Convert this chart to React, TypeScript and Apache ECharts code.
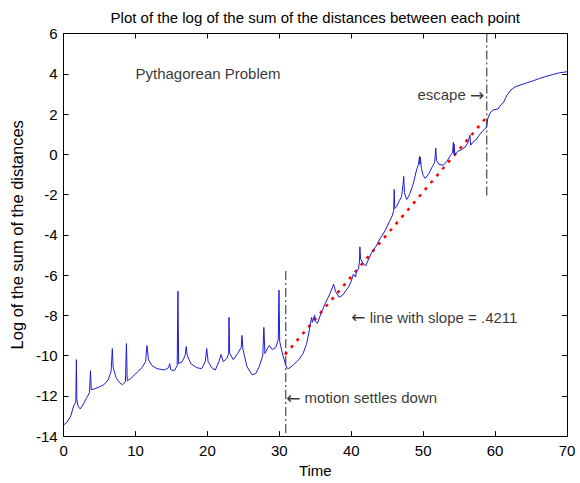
import React, { useEffect, useRef } from "react";
import * as echarts from "echarts";

// ---- Data ----
const timePoints = [
  0, 0.5, 1.0, 1.4, 1.7, 1.78, 1.85, 2.0, 2.3, 2.7, 3.2, 3.6, 3.74, 3.85, 4.3, 5.0, 5.6, 6.2, 6.6, 6.78,
  6.9, 7.3, 7.8, 8.2, 8.6, 8.74, 8.85, 9.3, 9.9, 10.3, 10.9, 11.4, 11.6, 11.8, 12.3, 13.0, 14.0, 14.6, 14.75, 14.9,
  15.4, 15.8, 15.9, 16.0, 16.5, 16.9, 17.05, 17.2, 17.7, 18.5, 19.2, 19.7, 19.9, 20.1, 20.6, 21.1, 21.6, 21.9, 22.2, 22.7,
  22.95, 23.0, 23.1, 23.6, 24.2, 24.7, 24.8, 24.95, 25.5, 26.2, 26.7, 27.2, 27.7, 27.85, 28.0, 28.4, 28.6, 29.0, 29.5, 29.85,
  29.95, 30.05, 30.5, 31.0, 31.3, 32.0, 32.7, 33.3, 33.8, 34.2, 34.3, 34.5, 34.6, 34.9, 35.0, 35.3, 35.8, 36.4, 37.0, 37.4,
  37.55, 37.8, 38.3, 38.8, 39.3, 39.7, 40.0, 40.3, 40.6, 40.75, 41.0, 41.15, 41.2, 41.3, 41.6, 42.0, 42.3, 42.8, 43.4, 44.0,
  44.7, 45.3, 45.7, 45.9, 45.97, 46.05, 46.3, 46.7, 47.0, 47.2, 47.3, 47.4, 47.7, 48.1, 48.6, 49.1, 49.35, 49.5, 49.55, 49.6,
  49.75, 50.0, 50.3, 50.8, 51.3, 51.6, 51.75, 51.85, 52.2, 52.8, 53.3, 53.8, 54.1, 54.2, 54.25, 54.3, 54.4, 54.8, 55.2, 55.8,
  56.2, 56.5, 56.6, 56.9, 57.3, 57.9, 58.4, 58.8, 59.0, 59.3, 59.7, 60.4, 60.7, 61.2, 61.6, 62.2, 62.8, 63.6, 64.4, 65.3,
  66.2, 67.2, 68.1, 69.0, 70.0,
];
const logDistance = [
  -13.45, -13.3, -13.0, -12.5, -12.3, -10.2, -12.2, -12.5, -12.65, -12.45, -12.1, -11.85, -10.75, -11.7, -11.65, -11.55, -11.45, -11.2, -10.8, -9.65,
  -10.6, -11.1, -11.35, -11.45, -11.3, -9.4, -11.25, -11.15, -10.95, -10.8, -10.6, -10.3, -9.5, -10.2, -10.5, -10.65, -10.72, -10.6, -10.4, -10.7,
  -10.75, -10.5, -6.8, -10.4, -10.3, -10.0, -9.55, -10.0, -10.4, -10.6, -10.65, -10.3, -9.65, -10.3, -10.6, -10.72, -10.3, -9.95, -10.3, -10.15,
  -9.9, -8.1, -9.9, -10.2, -9.9, -9.6, -9.0, -9.7, -10.55, -10.95, -10.9, -10.55, -10.0, -8.6, -9.9, -9.6, -9.5, -9.7, -9.6, -9.2,
  -6.75, -9.3, -10.0, -10.6, -10.65, -10.45, -10.2, -9.9, -9.4, -8.7, -8.45, -8.1, -8.35, -8.0, -8.3, -8.4, -7.9, -7.4, -6.95, -6.6,
  -6.45, -6.8, -7.1, -7.0, -6.75, -6.55, -6.3, -5.95, -6.1, -5.8, -5.7, -5.3, -4.6, -5.2, -5.4, -5.55, -5.3, -4.9, -4.6, -4.2,
  -3.8, -3.35, -3.05, -2.8, -1.75, -2.7, -2.6, -2.3, -2.1, -1.5, -1.1, -1.9, -2.25, -2.0, -1.5, -0.75, -0.5, -0.1, -0.5, -0.15,
  -0.7, -1.05, -1.2, -0.95, -0.6, -0.4, 0.3, -0.3, -0.5, -0.55, -0.35, -0.05, 0.1, 0.6, 0.05, 0.5, -0.05, 0.15, 0.2, 0.35,
  0.55, 0.95, 0.45, 0.6, 0.7, 1.0, 1.2, 1.35, 1.8, 2.05, 2.2, 2.25, 2.4, 2.6, 2.9, 3.2, 3.35, 3.45, 3.55, 3.65,
  3.77, 3.88, 3.97, 4.05, 4.1,
];

// fitted line with slope = .4211 (end points)
const slopeLineT = [30.8, 59.0];
const slopeLineY = [-9.95, 1.92];

// dash-dot marker lines
const settleLineT = [30.9, 30.9];
const settleLineY = [-5.8, -14];
const escapeLineT = [58.85, 58.85];
const escapeLineY = [6, -2.2];

// annotations: position and text ({l|..} / {r|..} mark the arrows)
const annotationT = [10, 49.2, 40, 30.95];
const annotationY = [4, 2.95, -8.1, -12.1];
const annotationText = [
  "Pythagorean Problem",
  "escape {a|\u2192}",
  "{a|\u2190} line with slope = .4211",
  "{a|\u2190} motion settles down",
];

const xTicks = { min: 0, max: 70, interval: 10 };
const yTicks = { min: -14, max: 6, interval: 2 };

const FONT = "Liberation Sans, Arial, sans-serif";
const FS = 15;

export default function App() {
  const ref = useRef<HTMLDivElement>(null);

  useEffect(() => {
    if (!ref.current) return;
    const chart = echarts.init(ref.current, undefined, { renderer: "svg" });

    const axisCommon = {
      type: "value" as const,
      axisLine: { show: true, onZero: false, lineStyle: { color: "#000", width: 1 } },
      axisTick: { show: true, inside: true, length: 5, lineStyle: { color: "#000", width: 1 } },
      splitLine: { show: false },
    };
    const labelStyle = { color: "#000", fontSize: FS, fontFamily: FONT };

    chart.setOption({
      animation: false,
      backgroundColor: "#ffffff",
      grid: { left: 63, right: 13, top: 33.5, bottom: 41.5, containLabel: false },
      xAxis: [
        {
          ...axisCommon,
          ...xTicks,
          position: "bottom",
          axisLabel: { ...labelStyle, margin: 7 },
          name: "Time",
          nameLocation: "middle",
          nameGap: 26,
          nameTextStyle: labelStyle,
        },
        {
          ...axisCommon,
          ...xTicks,
          position: "top",
          axisLabel: { show: false },
          name: "Plot of the log of the sum of the distances between each point",
          nameLocation: "middle",
          nameGap: 9,
          nameTextStyle: labelStyle,
        },
      ],
      yAxis: [
        {
          ...axisCommon,
          ...yTicks,
          position: "left",
          axisLabel: { ...labelStyle, margin: 6 },
          name: "Log of the sum of the distances",
          nameLocation: "middle",
          nameGap: 35,
          nameTextStyle: { ...labelStyle, fontSize: 16.5 },
        },
        {
          ...axisCommon,
          ...yTicks,
          position: "right",
          axisLabel: { show: false },
        },
      ],
      series: [
        {
          type: "line",
          data: timePoints.map((t, i) => [t, logDistance[i]]),
          showSymbol: false,
          symbol: "none",
          lineStyle: { color: "#1c1cd6", width: 1 },
          z: 3,
        },
        {
          type: "line",
          data: slopeLineT.map((t, i) => [t, slopeLineY[i]]),
          showSymbol: false,
          symbol: "none",
          lineStyle: { color: "#ff0000", width: 2.5, type: [3, 6], cap: "butt" },
          z: 2,
        },
        {
          type: "line",
          data: settleLineT.map((t, i) => [t, settleLineY[i]]),
          showSymbol: false,
          symbol: "none",
          lineStyle: { color: "#222", width: 1, type: [9, 3, 2, 3] },
          z: 2,
        },
        {
          type: "line",
          data: escapeLineT.map((t, i) => [t, escapeLineY[i]]),
          showSymbol: false,
          symbol: "none",
          lineStyle: { color: "#222", width: 1, type: [9, 3, 2, 3] },
          z: 2,
        },
        {
          type: "scatter",
          symbolSize: 0,
          data: annotationT.map((t, i) => ({ value: [t, annotationY[i]], name: annotationText[i] })),
          label: {
            show: true,
            position: "right",
            distance: 0,
            formatter: (p: any) => p.name,
            color: "#000",
            fontSize: FS,
            fontFamily: FONT,
            rich: {
              a: { fontFamily: "DejaVu Sans", fontSize: 17, color: "#000" },
            },
          },
          z: 4,
        },
      ],
    });

    return () => chart.dispose();
  }, []);

  return (
    <div
      ref={ref}
      style={{ position: "fixed", left: 0, top: 0, width: 580, height: 483, background: "#fff" }}
    />
  );
}
